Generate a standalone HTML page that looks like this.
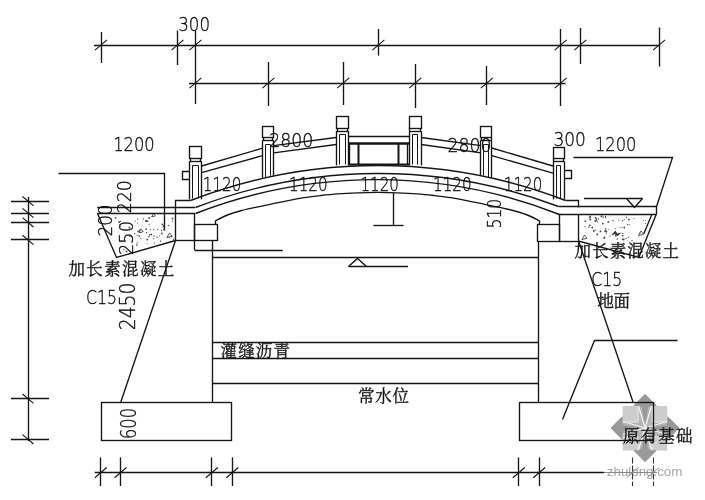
<!DOCTYPE html>
<html><head><meta charset="utf-8"><title>bridge</title>
<style>
html,body{margin:0;padding:0;background:#fff}
svg{display:block;filter:grayscale(1)}
text.n{font-family:"DejaVu Sans","Liberation Sans",sans-serif;font-weight:200;stroke:#1a1a1a;stroke-width:0.35px}
text.c{font-family:'Liberation Serif','Noto Serif CJK SC',serif;stroke:#222;stroke-width:0.35px}
</style></head>
<body>
<svg width="705" height="500" viewBox="0 0 705 500">
<rect width="705" height="500" fill="#fff"/>

<g>
<polygon points="645,394 679,428 645,462 611,428" fill="#b4b4b4"/>
<rect x="622.6" y="406" width="15.6" height="16" fill="#cdcdcd"/>
<rect x="652.2" y="406" width="15" height="16" fill="#cdcdcd"/>
<rect x="622.6" y="437" width="15.6" height="13.5" fill="#cdcdcd"/>
<rect x="652.2" y="437" width="15" height="13.5" fill="#cdcdcd"/>
<polygon points="645,394 656.5,405.5 648,407 645,426 642,407 633.5,405.5" fill="#999"/>
<polygon points="645,462 656.5,450.5 648,449 645,430 642,449 633.5,450.5" fill="#999"/>
<polygon points="610.5,428 622,416.5 623.5,425 643,428 623.5,431 622,439.5" fill="#999"/>
<polygon points="679.5,428 668,416.5 666.5,425 647,428 666.5,431 668,439.5" fill="#999"/>
<path d="M645 428 L638.5 406 M645 428 L651.5 406 M645 428 L638.5 450 M645 428 L651.5 450 M645 428 L623 421.5 M645 428 L623 434.5 M645 428 L667 421.5 M645 428 L667 434.5" fill="none" stroke="#f2f2f2" stroke-width="1.3"/>
<path d="M638.2 406 V422 H622.6 M652.2 406 V422 H667.2 M638.2 450.5 V437 H622.6 M652.2 450.5 V437 H667.2" fill="none" stroke="#e9e9e9" stroke-width="1"/>
<text x="606.8" y="476.4" font-size="13.3" textLength="75.6" lengthAdjust="spacingAndGlyphs" fill="#a6a6a6" style="font-family:'Liberation Sans',sans-serif">zhulong.com</text>
</g>
<line x1="94" y1="45.5" x2="659.5" y2="45.5" stroke="#161616" stroke-width="1.35" />
<line x1="101.5" y1="32" x2="101.5" y2="63" stroke="#161616" stroke-width="1.35" />
<line x1="95" y1="50.1" x2="107" y2="39.9" stroke="#161616" stroke-width="1.15" />
<line x1="177.5" y1="30.6" x2="177.5" y2="65" stroke="#161616" stroke-width="1.35" />
<line x1="171.5" y1="50.1" x2="183.5" y2="39.9" stroke="#161616" stroke-width="1.15" />
<line x1="378.5" y1="29" x2="378.5" y2="55.6" stroke="#161616" stroke-width="1.35" />
<line x1="372.4" y1="50.1" x2="384.4" y2="39.9" stroke="#161616" stroke-width="1.15" />
<line x1="580.5" y1="28" x2="580.5" y2="64" stroke="#161616" stroke-width="1.35" />
<line x1="574.3" y1="50.1" x2="586.3" y2="39.9" stroke="#161616" stroke-width="1.15" />
<line x1="659.5" y1="27.5" x2="659.5" y2="66.5" stroke="#161616" stroke-width="1.35" />
<line x1="653.1" y1="50.1" x2="665.1" y2="39.9" stroke="#161616" stroke-width="1.15" />
<line x1="195.5" y1="30.5" x2="195.5" y2="104" stroke="#161616" stroke-width="1.35" />
<line x1="189.4" y1="50.1" x2="201.4" y2="39.9" stroke="#161616" stroke-width="1.15" />
<line x1="189.4" y1="88.1" x2="201.4" y2="77.9" stroke="#161616" stroke-width="1.15" />
<line x1="560.5" y1="29" x2="560.5" y2="106" stroke="#161616" stroke-width="1.35" />
<line x1="554.7" y1="50.1" x2="566.7" y2="39.9" stroke="#161616" stroke-width="1.15" />
<line x1="554.7" y1="88.1" x2="566.7" y2="77.9" stroke="#161616" stroke-width="1.15" />
<line x1="189" y1="83.5" x2="565.5" y2="83.5" stroke="#161616" stroke-width="1.35" />
<line x1="268.5" y1="62" x2="268.5" y2="106" stroke="#161616" stroke-width="1.35" />
<line x1="262.4" y1="88.1" x2="274.4" y2="77.9" stroke="#161616" stroke-width="1.15" />
<line x1="343.5" y1="62" x2="343.5" y2="105" stroke="#161616" stroke-width="1.35" />
<line x1="337.2" y1="88.1" x2="349.2" y2="77.9" stroke="#161616" stroke-width="1.15" />
<line x1="415.5" y1="64" x2="415.5" y2="108" stroke="#161616" stroke-width="1.35" />
<line x1="409.2" y1="88.1" x2="421.2" y2="77.9" stroke="#161616" stroke-width="1.15" />
<line x1="486.5" y1="66" x2="486.5" y2="105" stroke="#161616" stroke-width="1.35" />
<line x1="480.9" y1="88.1" x2="492.9" y2="77.9" stroke="#161616" stroke-width="1.15" />
<text class="n" x="178.2" y="30.6" font-size="20" textLength="31.8" lengthAdjust="spacingAndGlyphs" fill="#000">300</text>
<text class="n" x="113.2" y="150.6" font-size="20" textLength="41.5" lengthAdjust="spacingAndGlyphs" fill="#000">1200</text>
<polyline points="58.5,173.5 164.5,173.5 164.5,230.5" fill="none" stroke="#161616" stroke-width="1.35"/>
<line x1="28.5" y1="197" x2="28.5" y2="441" stroke="#161616" stroke-width="1.35" />
<line x1="11" y1="201.5" x2="49" y2="201.5" stroke="#161616" stroke-width="1.35" />
<line x1="22.5" y1="196.52499999999998" x2="33.5" y2="205.875" stroke="#161616" stroke-width="1.15" />
<line x1="11" y1="213.5" x2="49" y2="213.5" stroke="#161616" stroke-width="1.35" />
<line x1="22.5" y1="208.325" x2="33.5" y2="217.675" stroke="#161616" stroke-width="1.15" />
<line x1="11" y1="222.5" x2="49" y2="222.5" stroke="#161616" stroke-width="1.35" />
<line x1="22.5" y1="217.625" x2="33.5" y2="226.97500000000002" stroke="#161616" stroke-width="1.15" />
<line x1="11" y1="239.5" x2="49" y2="239.5" stroke="#161616" stroke-width="1.35" />
<line x1="22.5" y1="235.225" x2="33.5" y2="244.57500000000002" stroke="#161616" stroke-width="1.15" />
<line x1="11" y1="398.5" x2="49" y2="398.5" stroke="#161616" stroke-width="1.35" />
<line x1="22.5" y1="394.025" x2="33.5" y2="403.375" stroke="#161616" stroke-width="1.15" />
<line x1="11" y1="439.5" x2="49" y2="439.5" stroke="#161616" stroke-width="1.35" />
<line x1="22.5" y1="434.625" x2="33.5" y2="443.975" stroke="#161616" stroke-width="1.15" />
<text class="n" x="553.4" y="146" font-size="20" textLength="32.4" lengthAdjust="spacingAndGlyphs" fill="#000">300</text>
<text class="n" x="595" y="151" font-size="20" textLength="41.5" lengthAdjust="spacingAndGlyphs" fill="#000">1200</text>
<polyline points="573.5,157.5 672.5,157.5 656.4,207" fill="none" stroke="#161616" stroke-width="1.35"/>
<polyline points="656.4,214 638.8,257.4" fill="none" stroke="#161616" stroke-width="1.35"/>
<line x1="651.8" y1="214.5" x2="643.7" y2="234" stroke="#161616" stroke-width="1.35" />
<line x1="584" y1="198.5" x2="642.5" y2="198.5" stroke="#161616" stroke-width="1.35" />
<polyline points="626.5,198.5 634.5,207.5 642.5,198.5" fill="none" stroke="#161616" stroke-width="1.35"/>
<polyline points="175.5,240.5 175.5,200.5 190.5,200.5" fill="none" stroke="#161616" stroke-width="1.35"/>
<path d="M190.5 200.5 A520 520 0 0 1 565.5 200.5" fill="none" stroke="#161616" stroke-width="1.35"/>
<polyline points="565.5,200.5 578.5,200.5 578.5,207.5" fill="none" stroke="#161616" stroke-width="1.35"/>
<line x1="97.2" y1="207.5" x2="195" y2="207.5" stroke="#161616" stroke-width="1.4" />
<path d="M195.5 207.5 A508 508 0 0 1 558.5 206.5" fill="none" stroke="#161616" stroke-width="1.35"/>
<line x1="558.6" y1="206.5" x2="656.3" y2="206.5" stroke="#161616" stroke-width="1.4" />
<line x1="97.2" y1="213.5" x2="195" y2="213.5" stroke="#161616" stroke-width="1.4" />
<path d="M195.5 213.5 A498.6 498.6 0 0 1 559.5 214.5" fill="none" stroke="#161616" stroke-width="1.35"/>
<line x1="559.3" y1="214.5" x2="656.3" y2="214.5" stroke="#161616" stroke-width="1.4" />
<line x1="656.5" y1="206.9" x2="656.5" y2="214" stroke="#161616" stroke-width="1.35" />
<path d="M215.40 220.90 C217.40 219.92 223.32 216.65 227.40 215.00 C231.48 213.35 235.23 212.27 239.90 211.00 C244.57 209.73 250.40 208.52 255.40 207.40 C260.40 206.28 264.98 205.32 269.90 204.30 C274.82 203.28 279.23 202.40 284.90 201.30 C290.57 200.20 297.98 198.65 303.90 197.70 C309.82 196.75 314.82 196.23 320.40 195.60 C325.98 194.97 331.23 194.37 337.40 193.90 C343.57 193.43 350.73 193.05 357.40 192.80 C364.07 192.55 370.73 192.40 377.40 192.40 C384.07 192.40 390.73 192.55 397.40 192.80 C404.07 193.05 411.23 193.43 417.40 193.90 C423.57 194.37 428.82 194.97 434.40 195.60 C439.98 196.23 444.98 196.75 450.90 197.70 C456.82 198.65 464.23 200.20 469.90 201.30 C475.57 202.40 479.98 203.28 484.90 204.30 C489.82 205.32 494.40 206.28 499.40 207.40 C504.40 208.52 510.23 209.73 514.90 211.00 C519.57 212.27 523.32 213.35 527.40 215.00 C531.48 216.65 537.40 219.92 539.40 220.90" fill="none" stroke="#161616" stroke-width="1.35"/>
<polyline points="215.5,224.5 215.5,220.5" fill="none" stroke="#161616" stroke-width="1.35"/>
<polyline points="539.5,220.5 539.5,224.5" fill="none" stroke="#161616" stroke-width="1.35"/>
<line x1="194.5" y1="213.9" x2="194.5" y2="250" stroke="#161616" stroke-width="1.35" />
<rect x="194.5" y="224.5" width="23.0" height="16.0" fill="none" stroke="#161616" stroke-width="1.35"/>
<line x1="175.4" y1="240.5" x2="194.5" y2="240.5" stroke="#161616" stroke-width="1.35" />
<line x1="194.5" y1="250.5" x2="282.8" y2="250.5" stroke="#161616" stroke-width="1.35" />
<line x1="212.5" y1="240.8" x2="212.5" y2="402" stroke="#161616" stroke-width="1.35" />
<polyline points="97.5,213.5 116.5,257.5 175.5,240.5" fill="none" stroke="#161616" stroke-width="1.35"/>
<line x1="175.4" y1="240.8" x2="120.8" y2="402" stroke="#161616" stroke-width="1.35" />
<line x1="559.5" y1="214" x2="559.5" y2="241.2" stroke="#161616" stroke-width="1.35" />
<rect x="537.5" y="224.5" width="22.0" height="17.0" fill="none" stroke="#161616" stroke-width="1.35"/>
<line x1="559.5" y1="241.5" x2="578.4" y2="241.5" stroke="#161616" stroke-width="1.35" />
<line x1="578.5" y1="214" x2="578.5" y2="240.5" stroke="#161616" stroke-width="1.35" />
<line x1="538.5" y1="241.2" x2="538.5" y2="402" stroke="#161616" stroke-width="1.35" />
<polyline points="578.4,241 638.8,257.4" fill="none" stroke="#161616" stroke-width="1.35"/>
<line x1="578.4" y1="240.5" x2="633" y2="402" stroke="#161616" stroke-width="1.35" />
<line x1="212.3" y1="257.5" x2="538.6" y2="257.5" stroke="#161616" stroke-width="1.35" />
<polyline points="348.5,266.5 357.5,258.5 366.5,266.5" fill="none" stroke="#161616" stroke-width="1.35"/>
<line x1="348.5" y1="266.5" x2="408" y2="266.5" stroke="#161616" stroke-width="1.35" />
<line x1="212.3" y1="342.5" x2="538.6" y2="342.5" stroke="#161616" stroke-width="1.35" />
<line x1="212.3" y1="358.5" x2="538.6" y2="358.5" stroke="#161616" stroke-width="1.35" />
<line x1="212.3" y1="383.5" x2="538.6" y2="383.5" stroke="#161616" stroke-width="1.35" />
<line x1="393.5" y1="192.5" x2="393.5" y2="225.3" stroke="#161616" stroke-width="1.35" />
<line x1="373.4" y1="225.5" x2="403.6" y2="225.5" stroke="#161616" stroke-width="1.35" />
<rect x="101.5" y="402.5" width="130.0" height="38.0" fill="none" stroke="#161616" stroke-width="1.35"/>
<rect x="519.5" y="402.5" width="134.0" height="38.0" fill="none" stroke="#161616" stroke-width="1.35"/>
<polyline points="677.5,340.5 594.5,340.5 562.5,419.5" fill="none" stroke="#161616" stroke-width="1.35"/>
<line x1="94.7" y1="472.5" x2="604" y2="472.5" stroke="#161616" stroke-width="1.35" />
<line x1="604" y1="472.5" x2="657" y2="472.5" stroke="#888" stroke-width="1.0" />
<line x1="100.5" y1="457.4" x2="100.5" y2="486" stroke="#161616" stroke-width="1.35" />
<line x1="94.8" y1="477.70000000000005" x2="106.8" y2="467.5" stroke="#161616" stroke-width="1.15" />
<line x1="120.5" y1="457.4" x2="120.5" y2="486" stroke="#161616" stroke-width="1.35" />
<line x1="114.5" y1="477.70000000000005" x2="126.5" y2="467.5" stroke="#161616" stroke-width="1.15" />
<line x1="211.5" y1="457.4" x2="211.5" y2="486" stroke="#161616" stroke-width="1.35" />
<line x1="205.8" y1="477.70000000000005" x2="217.8" y2="467.5" stroke="#161616" stroke-width="1.15" />
<line x1="232.5" y1="457.4" x2="232.5" y2="486" stroke="#161616" stroke-width="1.35" />
<line x1="226.3" y1="477.70000000000005" x2="238.3" y2="467.5" stroke="#161616" stroke-width="1.15" />
<line x1="518.5" y1="457.4" x2="518.5" y2="486" stroke="#161616" stroke-width="1.35" />
<line x1="512.8" y1="477.70000000000005" x2="524.8" y2="467.5" stroke="#161616" stroke-width="1.15" />
<line x1="539.5" y1="457.4" x2="539.5" y2="486" stroke="#161616" stroke-width="1.35" />
<line x1="533.2" y1="477.70000000000005" x2="545.2" y2="467.5" stroke="#161616" stroke-width="1.15" />
<line x1="632.5" y1="457.4" x2="632.5" y2="486" stroke="#333" stroke-width="1.1" stroke-dasharray="6 2"/>
<line x1="626.6" y1="477.6" x2="638.6" y2="467.6" stroke="#8a8a8a" stroke-width="1.0" />
<line x1="653.5" y1="457.4" x2="653.5" y2="486" stroke="#333" stroke-width="1.1" stroke-dasharray="6 2"/>
<line x1="647.2" y1="477.6" x2="659.2" y2="467.6" stroke="#8a8a8a" stroke-width="1.0" />
<rect x="189.5" y="146.5" width="12.0" height="12.0" fill="none" stroke="#161616" stroke-width="1.35"/>
<line x1="190.5" y1="158.7" x2="190.5" y2="161.29999999999998" stroke="#161616" stroke-width="1.35" />
<line x1="200.5" y1="158.7" x2="200.5" y2="161.29999999999998" stroke="#161616" stroke-width="1.35" />
<line x1="189.5" y1="161.5" x2="201.6" y2="161.5" stroke="#161616" stroke-width="1.35" />
<line x1="189.5" y1="161.29999999999998" x2="189.5" y2="199.4" stroke="#161616" stroke-width="1.35" />
<line x1="201.5" y1="161.29999999999998" x2="201.5" y2="199.4" stroke="#161616" stroke-width="1.35" />
<polyline points="192.5,198.5 192.5,165.5 198.5,165.5 198.5,198.5" fill="none" stroke="#161616" stroke-width="1.0"/>
<rect x="262.5" y="126.5" width="11.0" height="11.0" fill="none" stroke="#161616" stroke-width="1.35"/>
<line x1="263.5" y1="137.8" x2="263.5" y2="140.4" stroke="#161616" stroke-width="1.35" />
<line x1="272.5" y1="137.8" x2="272.5" y2="140.4" stroke="#161616" stroke-width="1.35" />
<line x1="262.5" y1="140.5" x2="273.7" y2="140.5" stroke="#161616" stroke-width="1.35" />
<line x1="262.5" y1="140.4" x2="262.5" y2="177.8" stroke="#161616" stroke-width="1.35" />
<line x1="273.5" y1="140.4" x2="273.5" y2="175.6" stroke="#161616" stroke-width="1.35" />
<polyline points="265.5,177.5 265.5,144.5 270.5,144.5 270.5,175.5" fill="none" stroke="#161616" stroke-width="1.0"/>
<rect x="336.5" y="116.5" width="12.0" height="12.0" fill="none" stroke="#161616" stroke-width="1.35"/>
<line x1="337.5" y1="128.5" x2="337.5" y2="131.1" stroke="#161616" stroke-width="1.35" />
<line x1="347.5" y1="128.5" x2="347.5" y2="131.1" stroke="#161616" stroke-width="1.35" />
<line x1="336.2" y1="131.5" x2="348.6" y2="131.5" stroke="#161616" stroke-width="1.35" />
<line x1="336.5" y1="131.1" x2="336.5" y2="165.4" stroke="#161616" stroke-width="1.35" />
<line x1="348.5" y1="131.1" x2="348.5" y2="165.4" stroke="#161616" stroke-width="1.35" />
<polyline points="339.5,164.5 339.5,134.5 345.5,134.5 345.5,164.5" fill="none" stroke="#161616" stroke-width="1.0"/>
<rect x="409.5" y="116.5" width="12.0" height="12.0" fill="none" stroke="#161616" stroke-width="1.35"/>
<line x1="409.5" y1="128.5" x2="409.5" y2="131.1" stroke="#161616" stroke-width="1.35" />
<line x1="420.5" y1="128.5" x2="420.5" y2="131.1" stroke="#161616" stroke-width="1.35" />
<line x1="409" y1="131.5" x2="421.2" y2="131.5" stroke="#161616" stroke-width="1.35" />
<line x1="409.5" y1="131.1" x2="409.5" y2="165.4" stroke="#161616" stroke-width="1.35" />
<line x1="421.5" y1="131.1" x2="421.5" y2="165.4" stroke="#161616" stroke-width="1.35" />
<polyline points="412.5,164.5 412.5,134.5 417.5,134.5 417.5,164.5" fill="none" stroke="#161616" stroke-width="1.0"/>
<rect x="480.5" y="126.5" width="11.0" height="11.0" fill="none" stroke="#161616" stroke-width="1.35"/>
<line x1="481.5" y1="137.6" x2="481.5" y2="140.2" stroke="#161616" stroke-width="1.35" />
<line x1="491.5" y1="137.6" x2="491.5" y2="140.2" stroke="#161616" stroke-width="1.35" />
<line x1="480.6" y1="140.5" x2="491.8" y2="140.5" stroke="#161616" stroke-width="1.35" />
<line x1="480.5" y1="140.2" x2="480.5" y2="175.6" stroke="#161616" stroke-width="1.35" />
<line x1="491.5" y1="140.2" x2="491.5" y2="177.8" stroke="#161616" stroke-width="1.35" />
<polyline points="483.5,175.5 483.5,144.5 488.5,144.5 488.5,177.5" fill="none" stroke="#161616" stroke-width="1.0"/>
<rect x="553.5" y="147.5" width="11.0" height="11.0" fill="none" stroke="#161616" stroke-width="1.35"/>
<line x1="553.5" y1="158.7" x2="553.5" y2="161.29999999999998" stroke="#161616" stroke-width="1.35" />
<line x1="563.5" y1="158.7" x2="563.5" y2="161.29999999999998" stroke="#161616" stroke-width="1.35" />
<line x1="553" y1="161.5" x2="564.3" y2="161.5" stroke="#161616" stroke-width="1.35" />
<line x1="553.5" y1="161.29999999999998" x2="553.5" y2="199.4" stroke="#161616" stroke-width="1.35" />
<line x1="564.5" y1="161.29999999999998" x2="564.5" y2="199.4" stroke="#161616" stroke-width="1.35" />
<polyline points="556.5,198.5 556.5,165.5 560.5,165.5 560.5,198.5" fill="none" stroke="#161616" stroke-width="1.0"/>
<polyline points="189.5,171.5 182.5,171.5 182.5,179.5 189.5,179.5" fill="none" stroke="#161616" stroke-width="1.35"/>
<polyline points="564.5,170.5 571.5,170.5 571.5,178.5 564.5,178.5" fill="none" stroke="#161616" stroke-width="1.35"/>
<line x1="201.6" y1="166" x2="262.5" y2="148.2" stroke="#161616" stroke-width="1.35" />
<line x1="201.6" y1="172.7" x2="262.5" y2="155.7" stroke="#161616" stroke-width="1.35" />
<line x1="273.7" y1="145.6" x2="336.2" y2="137.5" stroke="#161616" stroke-width="1.35" />
<line x1="273.7" y1="152.8" x2="336.2" y2="144.5" stroke="#161616" stroke-width="1.35" />
<line x1="421.2" y1="137.5" x2="481" y2="145.6" stroke="#161616" stroke-width="1.35" />
<line x1="421.2" y1="144.5" x2="481" y2="152.8" stroke="#161616" stroke-width="1.35" />
<line x1="491.8" y1="148" x2="553" y2="166" stroke="#161616" stroke-width="1.35" />
<line x1="491.8" y1="155.6" x2="553" y2="173.2" stroke="#161616" stroke-width="1.35" />
<line x1="348.6" y1="136.5" x2="409" y2="136.5" stroke="#161616" stroke-width="1.35" />
<line x1="348.6" y1="143.5" x2="409" y2="143.5" stroke="#161616" stroke-width="2.3" />
<line x1="348.6" y1="164.5" x2="409" y2="164.5" stroke="#161616" stroke-width="1.9" />
<line x1="349.5" y1="143.2" x2="349.5" y2="164.5" stroke="#161616" stroke-width="1.35" />
<line x1="407.5" y1="143.2" x2="407.5" y2="164.5" stroke="#161616" stroke-width="1.35" />
<line x1="358.5" y1="143.2" x2="358.5" y2="164.5" stroke="#161616" stroke-width="2.0" />
<line x1="398.5" y1="143.2" x2="398.5" y2="164.5" stroke="#161616" stroke-width="2.0" />
<text class="n" x="202.8" y="190.8" font-size="20" textLength="38.6" lengthAdjust="spacingAndGlyphs" fill="#000">1120</text>
<text class="n" x="289" y="190.8" font-size="20" textLength="38.6" lengthAdjust="spacingAndGlyphs" fill="#000">1120</text>
<text class="n" x="360.4" y="190.8" font-size="20" textLength="38.6" lengthAdjust="spacingAndGlyphs" fill="#000">1120</text>
<text class="n" x="433" y="190.8" font-size="20" textLength="38.6" lengthAdjust="spacingAndGlyphs" fill="#000">1120</text>
<text class="n" x="503.8" y="190.8" font-size="20" textLength="38.6" lengthAdjust="spacingAndGlyphs" fill="#000">1120</text>
<text class="n" x="269.2" y="146.8" font-size="19" textLength="44.2" lengthAdjust="spacingAndGlyphs" fill="#000">2800</text>
<text class="n" x="447.6" y="151.5" font-size="19" textLength="44" lengthAdjust="spacingAndGlyphs" fill="#000">2800</text>
<text class="n" transform="translate(131.3 213.2) rotate(-90)" x="0" y="0" font-size="20" textLength="33" lengthAdjust="spacingAndGlyphs" fill="#000">220</text>
<text class="n" transform="translate(111.6 236.6) rotate(-90)" x="0" y="0" font-size="20" textLength="32.2" lengthAdjust="spacingAndGlyphs" fill="#000">200</text>
<text class="n" transform="translate(132.7 255) rotate(-90)" x="0" y="0" font-size="20" textLength="34" lengthAdjust="spacingAndGlyphs" fill="#000">250</text>
<text class="n" transform="translate(135 330.3) rotate(-90)" x="0" y="0" font-size="20.5" textLength="47.8" lengthAdjust="spacingAndGlyphs" fill="#000">2450</text>
<text class="n" transform="translate(135.6 439) rotate(-90)" x="0" y="0" font-size="20.5" textLength="31" lengthAdjust="spacingAndGlyphs" fill="#000">600</text>
<text class="n" transform="translate(501 228.5) rotate(-90)" x="0" y="0" font-size="20" textLength="29.8" lengthAdjust="spacingAndGlyphs" fill="#000">510</text>
<text class="c" x="68.4" y="275.4" font-size="16.5" letter-spacing="1.38" fill="#111">加长素混凝土</text>
<text class="n" x="86" y="303.6" font-size="19.5" textLength="31" lengthAdjust="spacingAndGlyphs" fill="#000">C15</text>
<text class="c" x="574.6" y="257.4" font-size="16.5" letter-spacing="1.06" fill="#111">加长素混凝土</text>
<text class="n" x="591.2" y="285.8" font-size="19.5" textLength="31" lengthAdjust="spacingAndGlyphs" fill="#000">C15</text>
<text class="c" x="597.5" y="306.9" font-size="16.5" letter-spacing="-0.6" fill="#111">地面</text>
<text class="c" x="220.6" y="356.9" font-size="16.5" letter-spacing="1.1" fill="#111">灌缝沥青</text>
<text class="c" x="358" y="401.9" font-size="16.5" letter-spacing="0.7" fill="#111">常水位</text>
<circle cx="147.6" cy="221.1" r="0.9" fill="#444"/>
<circle cx="136.9" cy="243.9" r="0.55" fill="#444"/>
<circle cx="149.3" cy="218.0" r="0.9" fill="#444"/>
<circle cx="143.4" cy="218.9" r="0.7" fill="#444"/>
<circle cx="137.7" cy="219.1" r="0.7" fill="#444"/>
<circle cx="137.3" cy="235.2" r="0.55" fill="#444"/>
<circle cx="159.6" cy="235.8" r="0.55" fill="#444"/>
<circle cx="157.5" cy="229.5" r="0.55" fill="#444"/>
<circle cx="136.8" cy="245.2" r="0.7" fill="#444"/>
<circle cx="151.3" cy="234.4" r="0.9" fill="#444"/>
<circle cx="147.0" cy="243.7" r="0.55" fill="#444"/>
<circle cx="139.0" cy="235.4" r="0.55" fill="#444"/>
<circle cx="149.5" cy="234.6" r="0.55" fill="#444"/>
<circle cx="157.0" cy="237.0" r="0.7" fill="#444"/>
<circle cx="161.5" cy="230.5" r="0.7" fill="#444"/>
<circle cx="149.1" cy="224.4" r="0.55" fill="#444"/>
<circle cx="162.3" cy="224.3" r="0.9" fill="#444"/>
<circle cx="146.7" cy="232.8" r="0.7" fill="#444"/>
<circle cx="163.4" cy="225.8" r="0.55" fill="#444"/>
<circle cx="139.6" cy="230.2" r="0.7" fill="#444"/>
<circle cx="140.9" cy="232.6" r="0.55" fill="#444"/>
<circle cx="172.5" cy="218.6" r="0.9" fill="#444"/>
<circle cx="147.2" cy="239.6" r="0.9" fill="#444"/>
<circle cx="154.4" cy="243.1" r="0.55" fill="#444"/>
<circle cx="153.5" cy="238.6" r="0.55" fill="#444"/>
<circle cx="163.5" cy="226.5" r="0.9" fill="#444"/>
<circle cx="146.1" cy="229.1" r="0.9" fill="#444"/>
<circle cx="148.9" cy="236.8" r="0.7" fill="#444"/>
<circle cx="137.3" cy="242.1" r="0.55" fill="#444"/>
<circle cx="163.8" cy="229.5" r="0.7" fill="#444"/>
<circle cx="138.1" cy="231.3" r="0.9" fill="#444"/>
<circle cx="145.8" cy="220.7" r="0.7" fill="#444"/>
<circle cx="168.7" cy="225.5" r="0.7" fill="#444"/>
<circle cx="173.5" cy="239.2" r="0.7" fill="#444"/>
<circle cx="172.4" cy="221.1" r="0.55" fill="#444"/>
<circle cx="140.9" cy="238.4" r="0.55" fill="#444"/>
<circle cx="153.9" cy="236.0" r="0.7" fill="#444"/>
<circle cx="146.0" cy="221.0" r="0.9" fill="#444"/>
<circle cx="149.4" cy="235.3" r="0.55" fill="#444"/>
<circle cx="161.9" cy="233.5" r="0.9" fill="#444"/>
<circle cx="160.5" cy="241.2" r="0.7" fill="#444"/>
<circle cx="150.3" cy="229.6" r="0.55" fill="#444"/>
<circle cx="153.8" cy="229.6" r="0.55" fill="#444"/>
<circle cx="137.6" cy="223.1" r="0.55" fill="#444"/>
<circle cx="139.3" cy="236.4" r="0.55" fill="#444"/>
<circle cx="135.0" cy="221.1" r="0.55" fill="#444"/>
<circle cx="172.0" cy="236.9" r="0.55" fill="#444"/>
<circle cx="169.1" cy="236.9" r="0.55" fill="#444"/>
<circle cx="126.6" cy="251.4" r="0.9" fill="#444"/>
<circle cx="120.4" cy="221.4" r="0.7" fill="#444"/>
<circle cx="134.8" cy="233.8" r="0.7" fill="#444"/>
<circle cx="119.2" cy="222.2" r="0.9" fill="#444"/>
<circle cx="119.9" cy="226.5" r="0.9" fill="#444"/>
<circle cx="115.7" cy="217.8" r="0.9" fill="#444"/>
<circle cx="120.3" cy="241.8" r="0.55" fill="#444"/>
<circle cx="129.4" cy="227.7" r="0.9" fill="#444"/>
<circle cx="131.9" cy="242.1" r="0.7" fill="#444"/>
<circle cx="123.9" cy="249.7" r="0.7" fill="#444"/>
<circle cx="129.8" cy="236.2" r="0.9" fill="#444"/>
<circle cx="119.6" cy="225.0" r="0.55" fill="#444"/>
<circle cx="622.7" cy="235.6" r="0.9" fill="#444"/>
<circle cx="622.6" cy="220.8" r="0.7" fill="#444"/>
<circle cx="601.1" cy="216.7" r="0.55" fill="#444"/>
<circle cx="621.9" cy="227.3" r="0.55" fill="#444"/>
<circle cx="617.2" cy="239.0" r="0.7" fill="#444"/>
<circle cx="622.8" cy="233.4" r="0.7" fill="#444"/>
<circle cx="629.8" cy="224.8" r="0.55" fill="#444"/>
<circle cx="588.9" cy="227.3" r="0.7" fill="#444"/>
<circle cx="593.8" cy="231.0" r="0.9" fill="#444"/>
<circle cx="624.3" cy="227.5" r="0.9" fill="#444"/>
<circle cx="600.5" cy="231.4" r="0.9" fill="#444"/>
<circle cx="589.8" cy="225.3" r="0.9" fill="#444"/>
<circle cx="620.0" cy="227.5" r="0.55" fill="#444"/>
<circle cx="604.8" cy="231.3" r="0.55" fill="#444"/>
<circle cx="622.4" cy="239.3" r="0.7" fill="#444"/>
<circle cx="606.2" cy="233.8" r="0.55" fill="#444"/>
<circle cx="618.8" cy="220.1" r="0.55" fill="#444"/>
<circle cx="606.3" cy="231.7" r="0.9" fill="#444"/>
<circle cx="623.7" cy="239.5" r="0.9" fill="#444"/>
<circle cx="629.0" cy="219.7" r="0.9" fill="#444"/>
<circle cx="590.3" cy="216.3" r="0.9" fill="#444"/>
<circle cx="615.2" cy="228.6" r="0.55" fill="#444"/>
<circle cx="604.8" cy="236.9" r="0.55" fill="#444"/>
<circle cx="585.3" cy="221.1" r="0.9" fill="#444"/>
<circle cx="595.5" cy="230.1" r="0.7" fill="#444"/>
<circle cx="610.1" cy="236.0" r="0.55" fill="#444"/>
<circle cx="627.7" cy="224.5" r="0.7" fill="#444"/>
<circle cx="615.8" cy="235.6" r="0.9" fill="#444"/>
<circle cx="604.2" cy="238.0" r="0.9" fill="#444"/>
<circle cx="590.3" cy="219.6" r="0.9" fill="#444"/>
<circle cx="584.9" cy="226.6" r="0.55" fill="#444"/>
<circle cx="613.2" cy="234.6" r="0.55" fill="#444"/>
<circle cx="592.3" cy="227.4" r="0.9" fill="#444"/>
<circle cx="589.8" cy="217.5" r="0.9" fill="#444"/>
<circle cx="608.9" cy="229.3" r="0.55" fill="#444"/>
<circle cx="626.4" cy="217.4" r="0.55" fill="#444"/>
<circle cx="597.3" cy="234.5" r="0.9" fill="#444"/>
<circle cx="605.7" cy="216.7" r="0.55" fill="#444"/>
<circle cx="605.3" cy="230.7" r="0.9" fill="#444"/>
<circle cx="613.1" cy="220.8" r="0.7" fill="#444"/>
<circle cx="605.7" cy="228.8" r="0.7" fill="#444"/>
<circle cx="608.4" cy="221.9" r="0.9" fill="#444"/>
<circle cx="626.1" cy="238.6" r="0.7" fill="#444"/>
<circle cx="628.3" cy="237.4" r="0.55" fill="#444"/>
<circle cx="624.3" cy="219.3" r="0.55" fill="#444"/>
<circle cx="602.8" cy="223.6" r="0.9" fill="#444"/>
<circle cx="595.6" cy="217.8" r="0.9" fill="#444"/>
<circle cx="598.5" cy="218.9" r="0.55" fill="#444"/>
<circle cx="595.9" cy="218.0" r="0.55" fill="#444"/>
<circle cx="605.5" cy="217.8" r="0.55" fill="#444"/>
<circle cx="596.4" cy="219.9" r="0.9" fill="#444"/>
<circle cx="603.3" cy="217.3" r="0.7" fill="#444"/>
<circle cx="596.7" cy="218.9" r="0.55" fill="#444"/>
<circle cx="601.6" cy="216.2" r="0.9" fill="#444"/>
<circle cx="597.3" cy="221.6" r="0.7" fill="#444"/>
<circle cx="595.3" cy="221.0" r="0.9" fill="#444"/>
<circle cx="605.4" cy="216.9" r="0.55" fill="#444"/>
<circle cx="605.5" cy="216.8" r="0.7" fill="#444"/>
<circle cx="632.0" cy="240.7" r="0.7" fill="#444"/>
<circle cx="639.8" cy="233.4" r="0.7" fill="#444"/>
<circle cx="643.4" cy="220.7" r="0.55" fill="#444"/>
<circle cx="645.6" cy="223.5" r="0.55" fill="#444"/>
<circle cx="633.9" cy="218.5" r="0.55" fill="#444"/>
<circle cx="645.6" cy="220.5" r="0.55" fill="#444"/>
<polygon points="166.9,237.58 172.1,236.28 169.5,232.9" fill="none" stroke="#333" stroke-width="0.8"/>
<polygon points="138.8,232.76 143.2,231.66 141,228.8" fill="none" stroke="#333" stroke-width="0.8"/>
<polygon points="151.7,216.94 155.3,216.04 153.5,213.7" fill="none" stroke="#333" stroke-width="0.8"/>
<polygon points="581.9,239.58 587.1,238.28 584.5,234.9" fill="none" stroke="#333" stroke-width="0.8"/>
<polygon points="638.4,235.58 643.6,234.28 641,230.9" fill="none" stroke="#333" stroke-width="0.8"/>
<path d="M611 235.5 L615.5 230.5 L617 233.5 L621.5 232.5 L617.5 236 L614.5 234 Z" fill="#333"/>
<text class="c" x="623.1" y="442" font-size="16.5" letter-spacing="1.1" fill="#111">原有基础</text>
</svg>
</body></html>
